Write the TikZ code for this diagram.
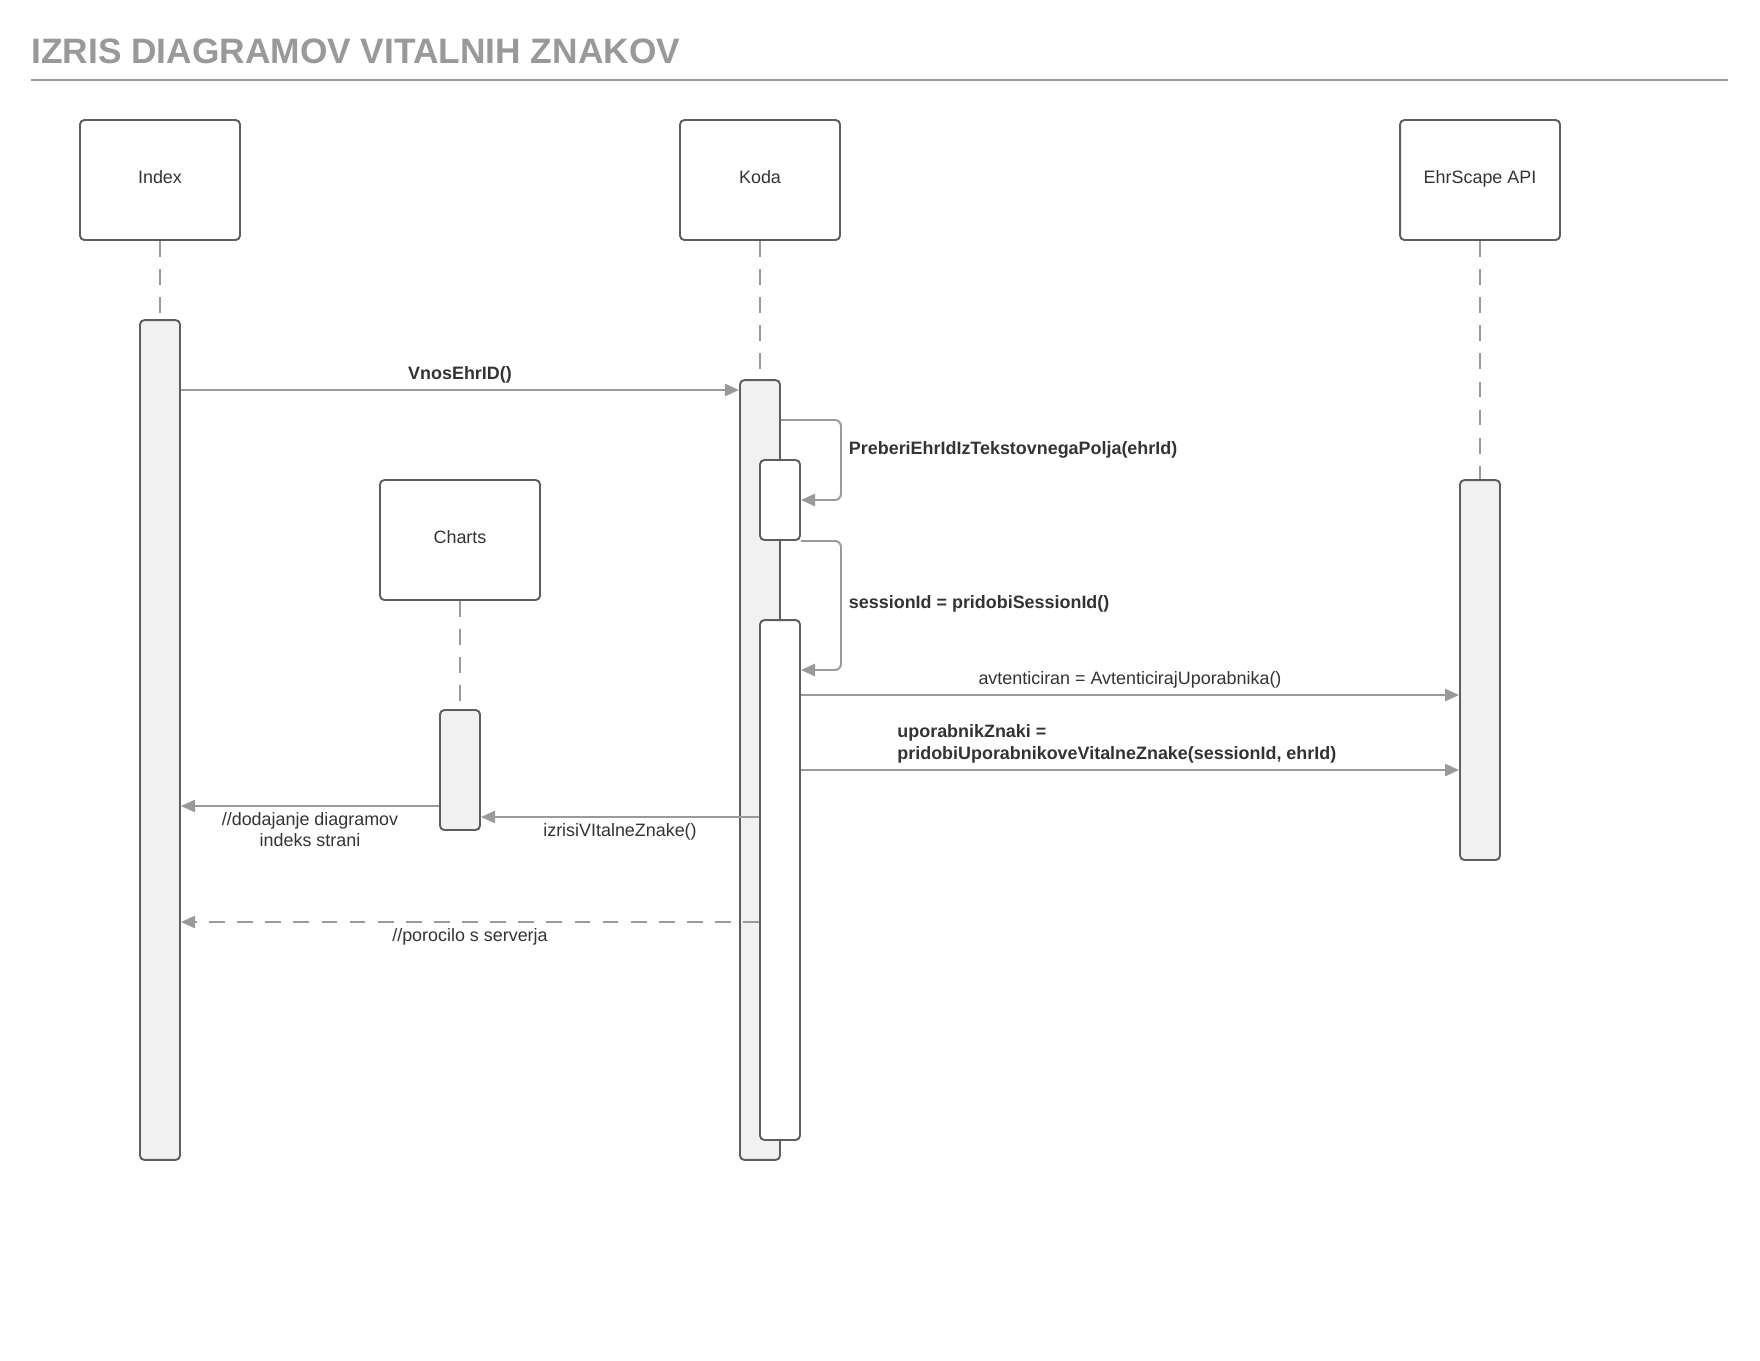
\documentclass[tikz,border=0pt]{standalone}
\usepackage{fontspec}
\setmainfont{Liberation Sans}
\usetikzlibrary{arrows.meta}
\definecolor{boxline}{HTML}{5E5E5E}
\definecolor{msgline}{HTML}{9A9A9A}
\definecolor{labeltext}{HTML}{333333}
\definecolor{titlegray}{HTML}{999999}
\definecolor{barfill}{HTML}{F1F1F1}
\newcommand{\lblfont}{\fontsize{10.2}{12.2}\selectfont}

\begin{document}
\begin{tikzpicture}[x=0.02cm, y=-0.02cm,
  every node/.style={font=\lblfont, text=labeltext},
  head/.style={draw=boxline, line width=1.1pt, rounded corners=2.5pt,
    fill=white, minimum width=3.2cm, minimum height=2.4cm,
    text height=0.7em, text depth=0.32em},
  actbar/.style={draw=boxline, line width=1.1pt, rounded corners=2.5pt,
    fill=barfill, minimum width=0.8cm, inner sep=0pt},
  lifeline/.style={draw=msgline, line width=1.1pt, dash pattern=on 9pt off 7pt},
  msg/.style={draw=msgline, line width=1.1pt,
    -{Triangle[length=8pt,width=7pt]}},
  reply/.style={msg, dash pattern=on 9pt off 7pt},
  bold/.style={font=\lblfont\bfseries}]
\useasboundingbox (0,0) rectangle (1760,1360);

% title
\node[anchor=base west, inner sep=0pt, text=titlegray,
  font=\fontsize{20.1}{24}\selectfont\bfseries] (title) at (31,63)
  {IZRIS DIAGRAMOV VITALNIH ZNAKOV};
\draw[titlegray, line width=1.1pt] (31,80) -- (1728,80);

% lifeline heads
\node[head] (index) at (160,180) {Index};
\node[head] (koda) at (760,180) {Koda};
\node[head] (ehr) at (1480,180) {EhrScape API};
\node[head] (charts) at (460,540) {Charts};

% activation bars
\node[actbar, minimum height=16.8cm] (ibar) at (160,740) {};
\node[actbar, minimum height=15.6cm] (kbar) at (760,770) {};
\node[actbar, fill=white, minimum height=1.6cm] (kself1) at (780,500) {};
\node[actbar, fill=white, minimum height=10.4cm] (kself2) at (780,880) {};
\node[actbar, minimum height=7.6cm] (ebar) at (1480,670) {};
\node[actbar, minimum height=2.4cm] (cbar) at (460,770) {};

\draw[lifeline] (index) -- (ibar);
\draw[lifeline] (koda) -- (kbar);
\draw[lifeline] (ehr) -- (ebar);
\draw[lifeline] (charts) -- (cbar);

% message rows
\coordinate (m1) at (0,390);
\coordinate (m2) at (0,420);
\coordinate (m2b) at (0,500);
\coordinate (m3b) at (0,670);
\coordinate (m4) at (0,695);
\coordinate (m5) at (0,770);
\coordinate (m6) at (0,806);
\coordinate (m7) at (0,817);
\coordinate (m8) at (0,922);

\draw[msg] (ibar.east |- m1) -- node[above=2.2pt, inner sep=1pt, bold]
  {VnosEhrID()} (kbar.west |- m1);
\draw[msg, rounded corners=3.4pt] (kbar.east |- m2) -- ++(60,0)
  |- node[pos=0.185, right=3pt, inner sep=1pt, bold]
  {PreberiEhrIdIzTekstovnegaPolja(ehrId)} (kself1.east |- m2b);
\draw[msg, rounded corners=3.4pt] (kself1.south east) -- ++(40,0)
  |- node[pos=0.245, right=3pt, inner sep=1pt, bold]
  {sessionId = pridobiSessionId()} (kself2.east |- m3b);
\draw[msg] (kself2.east |- m4) -- node[above=2.2pt, inner sep=1pt]
  {avtenticiran = AvtenticirajUporabnika()} (ebar.west |- m4);
\draw[msg] (kself2.east |- m5) -- node[pos=0.48, above=2.4pt, inner sep=1pt,
  align=left, bold] {uporabnikZnaki =\\pridobiUporabnikoveVitalneZnake(sessionId, ehrId)}
  (ebar.west |- m5);
\draw[msg] (kself2.west |- m7) -- node[below=2pt, inner sep=1pt]
  {izrisiVItalneZnake()} (cbar.east |- m7);
\draw[msg] (cbar.west |- m6) -- node[below=2pt, inner sep=1pt, align=center]
  {//dodajanje diagramov\\indeks strani} (ibar.east |- m6);
\draw[reply] (kself2.west |- m8) -- node[below=2pt, inner sep=1pt]
  {//porocilo s serverja} (ibar.east |- m8);
\end{tikzpicture}
\end{document}
